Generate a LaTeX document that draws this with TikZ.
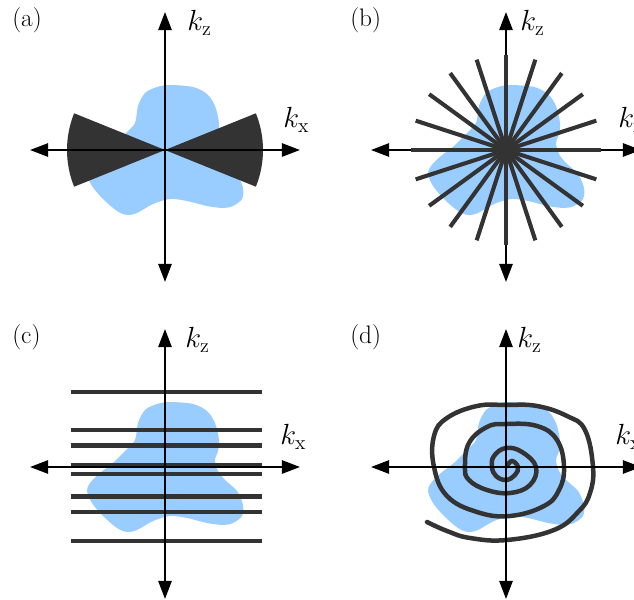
\documentclass[tikz,border=0pt]{standalone}
\usetikzlibrary{arrows.meta}
\definecolor{blobblue}{RGB}{153,204,255}
\definecolor{traj}{RGB}{51,51,51}
\begin{document}
\begin{tikzpicture}[
    x=0.025cm, y=0.025cm,
    >={Triangle[length=0.45cm,width=0.33cm]},
    axis/.style={
        <->,
        line width=1.4pt,
        black
    },
    sample/.style={
        draw=traj,
        line width=3pt
    },
    region/.style={
        fill=blobblue
    },
    panel/.style={
        font=\fontsize{18}{21}\selectfont,
        inner sep=0pt,
        anchor=base west
    },
    klabel/.style={
        font=\fontsize{20}{24}\selectfont,
        inner sep=0pt,
        anchor=base west
    }
]
\useasboundingbox (0,0) rectangle (634,600);
\clip (0,0) rectangle (634,600);

% Object
\foreach \cx/\cy in {165/450, 506/450, 165/133, 506/133} {
    \fill[region, shift={(\cx,\cy)}] plot[smooth cycle] coordinates {
        (-8,63) (5,65) (28,63) (42,56) (50,44) (54,27) (53,16) (50,7)
        (53,-4) (60,-13) (72,-24) (78,-38) (77,-49) (68,-56) (58,-58)
        (42,-56) (22,-51) (5,-49) (-12,-54) (-28,-63) (-38,-65) (-48,-61)
        (-62,-49) (-73,-36) (-78,-24) (-75,-16) (-65,-6) (-52,4) (-40,16)
        (-30,27) (-27,44) (-20,57)};
}

% (a) Bowtie
\begin{scope}[shift={(165,450)}]
    \fill[traj] (0,0) -- (-22:98) arc[start angle=-22, end angle=22, radius=98] -- cycle;
    \fill[traj] (0,0) -- (158:98) arc[start angle=158, end angle=202, radius=98] -- cycle;
\end{scope}

% (c) Lines
\foreach \yy in {75.3, 37.3, 21.6, 2.3, -7, -29.4, -45, -73.7}
    \draw[sample, shift={(165,133)}] (-94.3,\yy) -- (97.3,\yy);

% (d) Spiral
\draw[sample, line width=3.2pt, line cap=round, shift={(506,133)}]
    plot[smooth, tension=0.7] coordinates {
    (1,1) (6,6) (12,0) (9,-8) (0,-13) (-10,-9) (-14,0) (-12,11) (0,19)
    (16,15) (30,0) (24,-18) (4,-26) (-19,-23) (-37,-13) (-41,0) (-37,24)
    (-19,40) (0,43) (31,41) (51,27) (58,0) (53,-23) (38,-39) (4,-49)
    (-29,-45) (-59,-29) (-72,0) (-72,31) (-59,49) (-29,61) (0,62) (31,61)
    (61,51) (79,37) (87,0) (84,-26) (73,-44) (48,-63) (1,-73) (-36,-71)
    (-59,-64) (-79,-55)};

% Axes
\foreach \p/\cx/\cy/\kz/\kx/\lx in {a/165/450/22/118/12, b/506/450/14/112/350, c/165/133/20/115/12, d/506/133/11/109/350} {
    \coordinate (\p-c) at (\cx,\cy);
    \coordinate (\p-w) at ([shift={(-135,0)}]\p-c);
    \coordinate (\p-e) at ([shift={(135,0)}]\p-c);
    \coordinate (\p-s) at ([shift={(0,-132)}]\p-c);
    \coordinate (\p-n) at ([shift={(0,138)}]\p-c);
    \draw[axis] (\p-w) -- (\p-e);
    \draw[axis] (\p-s) -- (\p-n);
    \node[klabel] (\p-kz) at ([shift={(\kz,119)}]\p-c) {$k_{\mathrm{z}}$};
    \node[klabel] (\p-kx) at ([shift={(\kx,22)}]\p-c) {$k_{\mathrm{x}}$};
    \node[panel] (\p-lbl) at ([shift={(\lx-\cx,123)}]\p-c) {(\p)};
}

% (b) Spokes
\foreach \a in {0,18,...,162}
    \draw[sample, line width=2.9pt, shift={(506,450)}] (\a:95) -- (\a+180:95);

\end{tikzpicture}
\end{document}
